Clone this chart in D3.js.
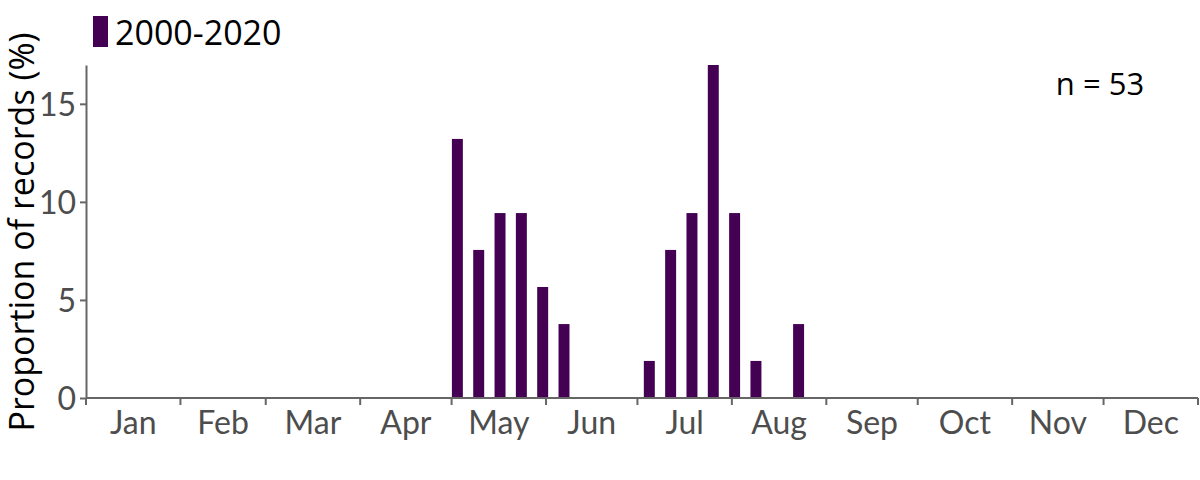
<!DOCTYPE html>
<html>
<head>
<meta charset="utf-8">
<script src="https://cdn.jsdelivr.net/npm/d3@7"></script>
<style>
  html, body { margin: 0; padding: 0; background: #fff; }
  svg { display: block; }
</style>
</head>
<body>
<svg id="chart" width="1200" height="480"></svg>
<script>
// ---- data ----
const months = ["Jan","Feb","Mar","Apr","May","Jun","Jul","Aug","Sep","Oct","Nov","Dec"];
const monthStartDays = [0, 31, 59, 90, 120, 151, 181, 212, 243, 273, 304, 334, 365];
const weeks = [18, 19, 20, 21, 22, 23, 27, 28, 29, 30, 31, 32, 34];
const proportions = [13.21, 7.55, 9.43, 9.43, 5.66, 3.77, 1.89, 7.55, 9.43, 16.98, 9.43, 1.89, 3.77];
const yTicks = [0, 5, 10, 15];
const seriesName = "2000-2020";
const sampleLabel = "n = 53";

const svg = d3.select("#chart");
const mLeft = 86, mRight = 1198, mTop = 65, mBottom = 398;
const barColor = "#440154";
const axisColor = "#666666";
const tickTextColor = "#4d4d4d";
const tickFont = "Lato, 'Open Sans', sans-serif";
const labelFont = "'Open Sans', 'Noto Sans', sans-serif";

const x = d3.scaleLinear().domain([0, 365]).range([mLeft, mRight]);
const y = d3.scaleLinear().domain([0, d3.max(proportions)]).range([mBottom, mTop]);

// bars
const barData = weeks.map((w, i) => ({ week: w, value: proportions[i] }));
svg.append("g").selectAll("rect").data(barData).join("rect")
  .attr("x", d => x((d.week - 1) * 7 + 2.9 - 1.8))
  .attr("width", x(3.6) - x(0))
  .attr("y", d => y(d.value))
  .attr("height", d => y(0) - y(d.value))
  .attr("fill", barColor);

// x axis: ticks at month starts, labels at month middles
const xg = svg.append("g").attr("transform", `translate(0,${mBottom})`);
xg.append("line").attr("x1", mLeft).attr("x2", mRight).attr("y1", 0).attr("y2", 0)
  .attr("stroke", axisColor).attr("stroke-width", 2);
xg.selectAll("line.tick").data(monthStartDays).join("line").attr("class", "tick")
  .attr("x1", d => x(d)).attr("x2", d => x(d)).attr("y1", 0).attr("y2", 7)
  .attr("stroke", axisColor).attr("stroke-width", 2);
xg.selectAll("text").data(months).join("text")
  .attr("x", (d, i) => x((monthStartDays[i] + monthStartDays[i + 1]) / 2))
  .attr("y", 36)
  .attr("text-anchor", "middle")
  .attr("fill", tickTextColor)
  .style("font-family", tickFont)
  .style("font-size", "32px")
  .text(d => d);

// y axis
const yAxis = d3.axisLeft(y).tickValues(yTicks).tickSize(6).tickPadding(4).tickSizeOuter(0);
const yg = svg.append("g").attr("transform", `translate(${mLeft},0)`).call(yAxis);
yg.select(".domain").attr("stroke", axisColor).attr("stroke-width", 2);
yg.selectAll(".tick line").attr("stroke", axisColor).attr("stroke-width", 2);
yg.selectAll(".tick text").attr("fill", tickTextColor)
  .style("font-family", tickFont).style("font-size", "32px").attr("dy", "0.35em");

// y label
svg.append("text")
  .attr("transform", `translate(34,232) rotate(-90)`)
  .attr("text-anchor", "middle")
  .attr("fill", "#000")
  .style("font-family", labelFont)
  .style("font-size", "34px")
  .text("Proportion of records (%)");

// legend
svg.append("rect").attr("x", 93).attr("y", 16).attr("width", 15).attr("height", 31).attr("fill", barColor);
svg.append("text").attr("x", 115).attr("y", 45)
  .attr("fill", "#000").style("font-family", labelFont).style("font-size", "34px")
  .text(seriesName);

// n label
svg.append("text").attr("x", 1100).attr("y", 95).attr("text-anchor", "middle")
  .attr("fill", "#000").style("font-family", labelFont).style("font-size", "31px")
  .text(sampleLabel);
</script>
</body>
</html>
